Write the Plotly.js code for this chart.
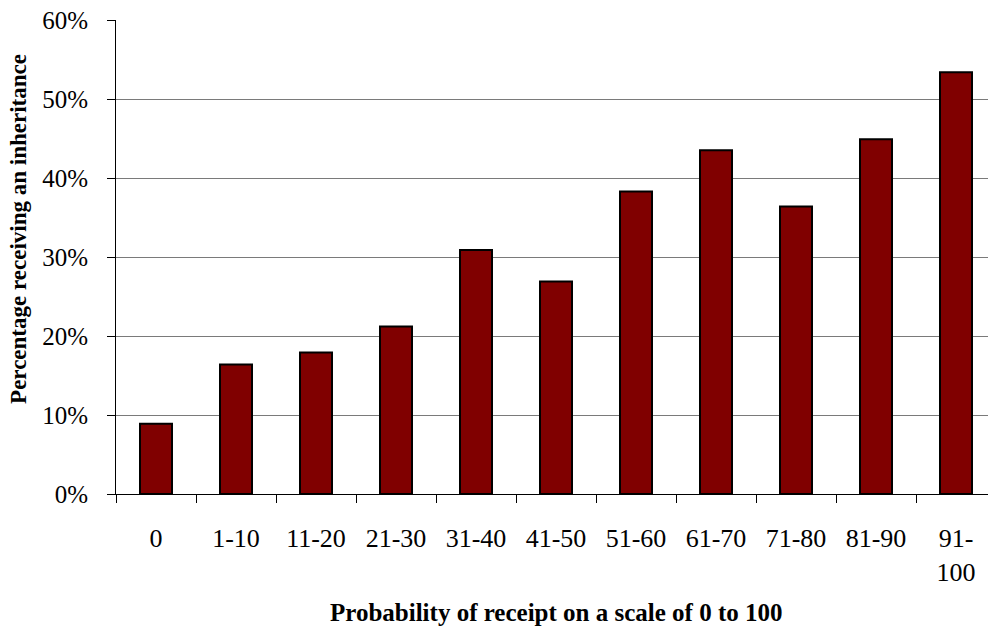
<!DOCTYPE html>
<html>
<head>
<meta charset="utf-8">
<script src="https://cdn.plot.ly/plotly-3.0.1.min.js"></script>
<style>html,body{margin:0;padding:0;background:#fff;}#chart{width:988px;height:629px;}</style>
</head>
<body>
<div id="chart"></div>
<script>
const categories = ["0", "1-10", "11-20", "21-30", "31-40", "41-50", "51-60", "61-70", "71-80", "81-90", "91-<br>100"];
const percentReceiving = [0.089, 0.164, 0.179, 0.212, 0.309, 0.269, 0.383, 0.435, 0.364, 0.449, 0.534];
const yTickValues = [0, 0.1, 0.2, 0.3, 0.4, 0.5, 0.6];
const yTickLabels = ["0%", "10%", "20%", "30%", "40%", "50%", "60%"];
const xTitle = "Probability of receipt on a scale of 0 to 100";
const yTitle = "Percentage receiving an inheritance";

const serif = "'Liberation Serif', 'Times New Roman', serif";

const trace = {
  type: "bar",
  x: categories,
  y: percentReceiving,
  width: 0.4,
  marker: {color: "#800000", line: {color: "#000000", width: 2}},
  hoverinfo: "none"
};

const layout = {
  width: 988,
  height: 629,
  margin: {l: 116, r: 0, t: 20, b: 135},
  paper_bgcolor: "#ffffff",
  plot_bgcolor: "#ffffff",
  showlegend: false,
  font: {family: serif, color: "#000000"},
  xaxis: {
    type: "category",
    range: [-0.5, 10.4],
    tickson: "boundaries",
    ticks: "outside",
    ticklen: 8,
    tickcolor: "#000000",
    tickwidth: 1,
    showgrid: false,
    showline: true,
    linecolor: "#000000",
    linewidth: 1,
    tickfont: {family: serif, size: 26, color: "#000000"},
    ticklabelstandoff: 21,
    fixedrange: true
  },
  yaxis: {
    range: [0, 0.6],
    tickvals: yTickValues,
    ticktext: yTickLabels,
    ticks: "outside",
    ticklen: 8,
    tickcolor: "#000000",
    showgrid: true,
    gridcolor: "#7a7a7a",
    gridwidth: 1,
    showline: true,
    linecolor: "#000000",
    linewidth: 1,
    zeroline: false,
    tickfont: {family: serif, size: 25, color: "#000000"},
    ticklabelstandoff: 14,
    fixedrange: true
  },
  annotations: [
    {text: "<b>" + xTitle + "</b>", xref: "paper", yref: "paper", x: 0.5046, y: -0.249,
     xanchor: "center", yanchor: "middle", showarrow: false, font: {family: serif, size: 25, color: "#000000"}},
    {text: "<b>" + yTitle + "</b>", xref: "paper", yref: "paper", x: -0.112, y: 0.56, textangle: -90,
     xanchor: "center", yanchor: "middle", showarrow: false, font: {family: serif, size: 23, color: "#000000"}}
  ]
};

Plotly.newPlot("chart", [trace], layout, {displayModeBar: false, staticPlot: true});
</script>
</body>
</html>
